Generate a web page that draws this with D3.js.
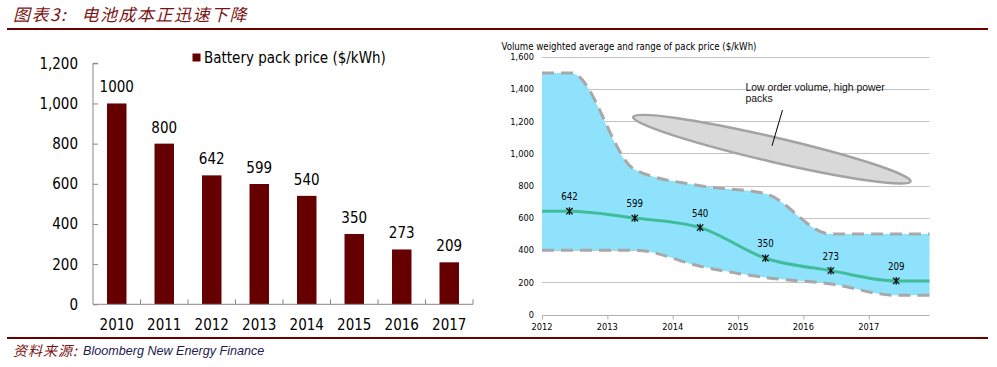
<!DOCTYPE html>
<html><head><meta charset="utf-8">
<script src="https://cdn.jsdelivr.net/npm/d3@7"></script>
<style>
html,body{margin:0;padding:0;background:#fff;}
svg{display:block;}
.tah{font-family:"DejaVu Sans Condensed","DejaVu Sans",sans-serif;font-stretch:condensed;}
</style></head><body>
<svg id="c" width="997" height="367"></svg>
<script>
// ---- Left chart data ----
const years = ["2010","2011","2012","2013","2014","2015","2016","2017"];
const packPrice = [1000, 800, 642, 599, 540, 350, 273, 209];
const leftTicks = [0, 200, 400, 600, 800, 1000, 1200];
const legendLabel = "Battery pack price ($/kWh)";

// ---- Right chart data ----
const rightTitle = "Volume weighted average and range of pack price ($/kWh)";
const rightXTicks = [2012, 2013, 2014, 2015, 2016, 2017];
const rightYTicks = [0, 200, 400, 600, 800, 1000, 1200, 1400, 1600];
const avgYears = [2012.42, 2013.42, 2014.42, 2015.42, 2016.42, 2017.42];
const avgValues = [642, 599, 540, 350, 273, 209];
const lineYears = [2012.0, 2012.42, 2013.42, 2014.42, 2015.42, 2016.42, 2017.42, 2017.93];
const lineValues = [642, 642, 599, 540, 350, 273, 209, 209];
const bandYears = [2012.0, 2012.45, 2013.42, 2014.42, 2015.42, 2016.42, 2017.42, 2017.93];
const bandUpper = [1500, 1500, 900, 800, 750, 500, 500, 500];
const bandLower = [400, 400, 400, 300, 230, 190, 120, 120];
const annotationLines = ["Low order volume, high power", "packs"];
// ellipse ends and leader line in data coordinates (year, value)
const ellipseEnds = [[2013.38, 1228], [2017.655, 825]];
const leaderLine = [[2015.68, 1269], [2015.52, 1048]];

const titleA = "图表3:";
const titleB = "电池成本正迅速下降";
const sourceA = "资料来源:";
const sourceB = "Bloomberg New Energy Finance";

const svg = d3.select("#c");
const maroon = "#6b0000";

// ---- Header / footer rules ----
svg.append("rect").attr("x", 7).attr("y", 28).attr("width", 981).attr("height", 2).attr("fill", maroon);
svg.append("rect").attr("x", 7).attr("y", 337).attr("width", 981).attr("height", 2).attr("fill", maroon);

const cjk = '"Noto Sans CJK SC", sans-serif';
svg.append("text").attr("x", 13).attr("y", 21)
  .attr("font-family", cjk).attr("font-style", "italic").attr("letter-spacing", 1.5)
  .attr("font-size", 17).attr("fill", "#7a1414").text(titleA);
svg.append("text").attr("x", 81.5).attr("y", 21)
  .attr("font-family", cjk).attr("font-style", "italic").attr("letter-spacing", 1.5)
  .attr("font-size", 17).attr("fill", "#7a1414").text(titleB);

svg.append("text").attr("x", 13).attr("y", 355.5)
  .attr("font-family", cjk).attr("font-style", "italic").attr("letter-spacing", 1)
  .attr("font-size", 14).attr("fill", "#7a1414").text(sourceA);
svg.append("text").attr("x", 83).attr("y", 355)
  .attr("font-family", '"Liberation Sans", Arial, sans-serif').attr("font-style", "italic")
  .attr("font-size", 12.6).attr("fill", "#1c2050").text(sourceB);

// ---- Left chart ----
const xL = d3.scaleBand().domain(years).range([93, 473]).paddingInner(0.59).paddingOuter(0.295);
const yL = d3.scaleLinear().domain([0, 1200]).range([304.3, 63.3]);
const axisCol = "#878787";
const gL = svg.append("g");

gL.selectAll("rect.bar").data(years).join("rect").attr("class", "bar")
  .attr("x", d => xL(d)).attr("width", xL.bandwidth())
  .attr("y", (d, i) => yL(packPrice[i])).attr("height", (d, i) => yL(0) - yL(packPrice[i]))
  .attr("fill", "#660000");

// y axis
const yAxisL = d3.axisRight(yL).tickValues(leftTicks).tickSize(5).tickFormat("");
const gya = gL.append("g").attr("transform", "translate(93,0)").call(yAxisL);
gya.select(".domain").attr("stroke", axisCol).attr("d", `M5,${yL(1200)}H0V${yL(0)}`);
gya.selectAll(".tick line").attr("stroke", axisCol);
gL.selectAll("text.ytl").data(leftTicks).join("text").attr("class", "ytl tah")
  .attr("x", 78).attr("y", d => yL(d)).attr("dy", "0.36em").attr("text-anchor", "end")
  .attr("font-size", 15).attr("fill", "#000").text(d => d3.format(",")(d));

// x axis with inside ticks at category boundaries
const step = xL.step();
gL.append("line").attr("x1", 93).attr("x2", 473).attr("y1", yL(0)).attr("y2", yL(0)).attr("stroke", axisCol);
gL.selectAll("line.xt").data(years).join("line").attr("class", "xt")
  .attr("x1", (d, i) => 93 + (i + 1) * step).attr("x2", (d, i) => 93 + (i + 1) * step)
  .attr("y1", yL(0)).attr("y2", yL(0) - 5).attr("stroke", axisCol);
gL.selectAll("text.xl").data(years).join("text").attr("class", "xl tah")
  .attr("x", d => xL(d) + xL.bandwidth() / 2).attr("y", 329.5).attr("text-anchor", "middle")
  .attr("font-size", 15).attr("fill", "#000").text(d => d);

gL.selectAll("text.vl").data(years).join("text").attr("class", "vl tah")
  .attr("x", d => xL(d) + xL.bandwidth() / 2).attr("y", (d, i) => yL(packPrice[i]) - 11)
  .attr("text-anchor", "middle").attr("font-size", 15).attr("fill", "#000")
  .text((d, i) => packPrice[i]);

// legend
gL.append("rect").attr("x", 192.5).attr("y", 53.5).attr("width", 8).attr("height", 8).attr("fill", "#660000");
gL.append("text").attr("class", "tah").attr("x", 204).attr("y", 62.5).attr("font-size", 15)
  .attr("fill", "#000").text(legendLabel);

// ---- Right chart ----
const xR = d3.scaleLinear().domain([2012, 2017.93]).range([542, 929.5]);
const yR = d3.scaleLinear().domain([0, 1600]).range([314.6, 56.8]);
const gR = svg.append("g");

gR.append("text").attr("class", "tah").attr("x", 501.5).attr("y", 50.2).attr("font-size", 9.6)
  .attr("fill", "#000").text(rightTitle);

// gridlines
gR.selectAll("line.grid").data(rightYTicks.filter(d => d > 0)).join("line").attr("class", "grid")
  .attr("x1", xR.range()[0]).attr("x2", xR.range()[1])
  .attr("y1", d => Math.round(yR(d)) + 0.5).attr("y2", d => Math.round(yR(d)) + 0.5)
  .attr("stroke", "#c3c3c3").attr("stroke-width", 1);

// band
const bandData = bandYears.map((y, i) => ({x: y, lo: bandLower[i], hi: bandUpper[i]}));
const curve = d3.curveMonotoneX;
gR.append("path").datum(bandData)
  .attr("d", d3.area().x(d => xR(d.x)).y0(d => yR(d.lo)).y1(d => yR(d.hi)).curve(curve))
  .attr("fill", "#8ee2fb");
["hi", "lo"].forEach(k => {
  gR.append("path").datum(bandData)
    .attr("d", d3.line().x(d => xR(d.x)).y(d => yR(d[k])).curve(curve))
    .attr("fill", "none").attr("stroke", "#a8a8a8").attr("stroke-width", 3)
    .attr("stroke-dasharray", "12,7");
});

// x axis
const gxa = gR.append("g").attr("transform", `translate(0,${Math.round(yR(0)) + 0.5})`)
  .call(d3.axisBottom(xR).tickValues(rightXTicks).tickSize(4).tickFormat(""));
gxa.select(".domain").attr("stroke", "#b0b0b0").attr("d", `M${xR.range()[0]},0H${xR.range()[1]}`);
gxa.selectAll(".tick line").attr("stroke", "#b0b0b0");
gR.selectAll("text.rxl").data(rightXTicks).join("text").attr("class", "rxl tah")
  .attr("x", d => xR(d)).attr("y", 330).attr("text-anchor", "middle").attr("font-size", 9.2)
  .attr("fill", "#000").text(d => d);
gR.selectAll("text.ryl").data(rightYTicks).join("text").attr("class", "ryl tah")
  .attr("x", 534).attr("y", d => yR(d)).attr("dy", "0.36em").attr("text-anchor", "end")
  .attr("font-size", 9.2).attr("fill", "#000").text(d => d3.format(",")(d));

// average line
const lineData = lineYears.map((y, i) => ({x: y, v: lineValues[i]}));
gR.append("path").datum(lineData)
  .attr("d", d3.line().x(d => xR(d.x)).y(d => yR(d.v)).curve(curve))
  .attr("fill", "none").attr("stroke", "#40bc9c").attr("stroke-width", 3);

// markers
const mk = gR.selectAll("g.mk").data(avgYears).join("g").attr("class", "mk")
  .attr("transform", (d, i) => `translate(${xR(d)},${yR(avgValues[i])})`);
mk.append("path").attr("d", "M-3.2,-3.2L3.2,3.2M-3.2,3.2L3.2,-3.2M0,-3.8V3.8")
  .attr("stroke", "#111").attr("stroke-width", 1.3).attr("fill", "none");
gR.selectAll("text.avl").data(avgYears).join("text").attr("class", "avl tah")
  .attr("x", d => xR(d)).attr("y", (d, i) => yR(avgValues[i]) - 11)
  .attr("text-anchor", "middle").attr("font-size", 9.6).attr("fill", "#000")
  .text((d, i) => avgValues[i]);

// ellipse annotation
const e0 = [xR(ellipseEnds[0][0]), yR(ellipseEnds[0][1])];
const e1 = [xR(ellipseEnds[1][0]), yR(ellipseEnds[1][1])];
const ecx = (e0[0] + e1[0]) / 2, ecy = (e0[1] + e1[1]) / 2;
const erx = Math.hypot(e1[0] - e0[0], e1[1] - e0[1]) / 2;
const eang = Math.atan2(e1[1] - e0[1], e1[0] - e0[0]) * 180 / Math.PI;
gR.append("ellipse").attr("cx", 0).attr("cy", 0).attr("rx", erx - 1).attr("ry", 12.3)
  .attr("transform", `translate(${ecx},${ecy}) rotate(${eang})`)
  .attr("fill", "#d9d9d9").attr("stroke", "#a3a3a3").attr("stroke-width", 2.5);
gR.append("line")
  .attr("x1", xR(leaderLine[0][0])).attr("y1", yR(leaderLine[0][1]))
  .attr("x2", xR(leaderLine[1][0])).attr("y2", yR(leaderLine[1][1]))
  .attr("stroke", "#000").attr("stroke-width", 1);
gR.selectAll("text.ann").data(annotationLines).join("text").attr("class", "ann")
  .attr("x", 745.5).attr("y", (d, i) => 90.5 + i * 11.7)
  .attr("font-family", '"Liberation Sans", Arial, sans-serif').attr("font-size", 10.4)
  .attr("fill", "#111").text(d => d);
</script>
</body></html>
